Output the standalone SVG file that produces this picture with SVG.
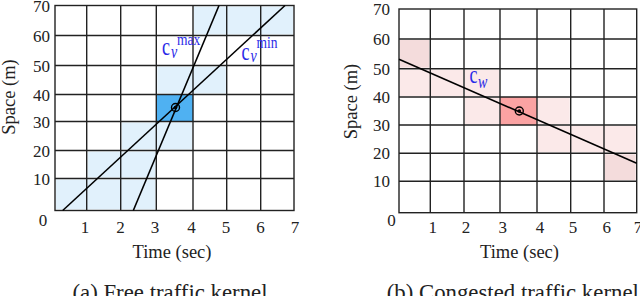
<svg xmlns="http://www.w3.org/2000/svg" width="640" height="296" viewBox="0 0 640 296">
<style>
.t{font-family:"Liberation Serif","Times New Roman",serif;fill:#222;}
.tk{font-size:17px;}
.ax{font-size:18.5px;}
.cap{font-size:22.8px;}
.lb{font-family:"Liberation Serif","Times New Roman",serif;fill:#2a2ae8;}
.g{stroke:#222;stroke-width:1.4;fill:none;}
.ln{stroke:#000;stroke-width:1.6;fill:none;}
.lb1{fill:#e1f1fc;}
.db{fill:#4fb1f2;}
.lp{fill:#fbe9e9;}
.mp{fill:#f4dcdc;}
.dp{fill:#fba3a3;}
</style>
<rect width="640" height="296" fill="#fff"/>

<g id="chart-a">
  <g id="cells-a">
    <rect class="lb1" x="56" y="179.5" width="99.5" height="30"/>
    <rect class="lb1" x="87.7" y="151.5" width="67.8" height="26"/>
    <rect class="lb1" x="121.7" y="122.5" width="70.5" height="27"/>
    <rect class="db" x="156.3" y="94.5" width="36.7" height="27"/>
    <rect class="lb1" x="157.3" y="66.5" width="68.6" height="27"/>
    <rect class="lb1" x="194" y="6.5" width="99" height="28"/>
  </g>
  <g id="grid-a" class="g">
    <rect x="55" y="5.5" width="239" height="205"/>
    <path d="M86.7 5.5V210.5M120.7 5.5V210.5M156.3 5.5V210.5M193 5.5V210.5M226.7 5.5V210.5M260.7 5.5V210.5"/>
    <path d="M55 35.5H294M55 65.5H294M55 94.5H294M55 121.5H294M55 150.5H294M55 178.5H294"/>
  </g>
  <g id="ticks-a" class="t tk">
    <text x="50" y="11.5" text-anchor="end">70</text>
    <text x="50" y="41.5" text-anchor="end">60</text>
    <text x="50" y="71.5" text-anchor="end">50</text>
    <text x="50" y="100.5" text-anchor="end">40</text>
    <text x="50" y="127.5" text-anchor="end">30</text>
    <text x="50" y="156.5" text-anchor="end">20</text>
    <text x="50" y="184.5" text-anchor="end">10</text>
    <text x="43" y="226" text-anchor="middle">0</text>
    <text x="85" y="233" text-anchor="middle">1</text>
    <text x="120.5" y="233" text-anchor="middle">2</text>
    <text x="155" y="233" text-anchor="middle">3</text>
    <text x="191.5" y="233" text-anchor="middle">4</text>
    <text x="226" y="233" text-anchor="middle">5</text>
    <text x="260.5" y="233" text-anchor="middle">6</text>
    <text x="295" y="233" text-anchor="middle">7</text>
  </g>
  <text class="t ax" x="172" y="258" text-anchor="middle">Time (sec)</text>
  <text class="t ax" transform="translate(15 97) rotate(-90)" text-anchor="middle">Space (m)</text>
  <text class="t cap" x="170" y="300" text-anchor="middle">(a) Free traffic kernel</text>
  <g id="label-cvmax" class="lb">
    <text transform="translate(162 55) scale(1 1.4)" font-size="18">c</text>
    <text transform="translate(171 57.5) scale(1 1.3)" font-size="14" font-style="italic">v</text>
    <text transform="translate(177 45) scale(1 1.3)" font-size="13.5">max</text>
  </g>
  <g id="label-cvmin" class="lb">
    <text transform="translate(241.5 59.5) scale(1 1.4)" font-size="18">c</text>
    <text transform="translate(250.5 62) scale(1 1.3)" font-size="14" font-style="italic">v</text>
    <text transform="translate(256.5 48) scale(1 1.3)" font-size="13.5">min</text>
  </g>
</g>

<g id="chart-b">
  <g id="cells-b">
    <rect class="mp" x="400" y="40" width="29.3" height="27.7"/>
    <rect class="lp" x="400" y="69.7" width="63" height="26.3"/>
    <rect class="lp" x="465" y="69.7" width="34" height="26.3"/>
    <rect class="lp" x="465" y="98" width="34" height="26"/>
    <rect class="dp" x="500" y="97" width="37" height="28"/>
    <rect class="lp" x="538" y="98" width="31.7" height="26"/>
    <rect class="lp" x="538" y="126" width="97.7" height="26.3"/>
    <rect class="mp" x="605" y="154.3" width="30.7" height="26"/>
  </g>
  <g id="grid-b" class="g">
    <rect x="399" y="9" width="237.7" height="203.7"/>
    <path d="M430.3 9V212.7M464 9V212.7M500 9V212.7M537 9V212.7M570.7 9V212.7M604 9V212.7"/>
    <path d="M399 39H636.7M399 68.7H636.7M399 97H636.7M399 125H636.7M399 153.3H636.7M399 181.3H636.7"/>
  </g>
  <g id="ticks-b" class="t tk">
    <text x="390" y="15" text-anchor="end">70</text>
    <text x="390" y="45" text-anchor="end">60</text>
    <text x="390" y="74.7" text-anchor="end">50</text>
    <text x="390" y="103" text-anchor="end">40</text>
    <text x="390" y="131" text-anchor="end">30</text>
    <text x="390" y="159.3" text-anchor="end">20</text>
    <text x="390" y="187.3" text-anchor="end">10</text>
    <text x="391.5" y="226" text-anchor="middle">0</text>
    <text x="432.7" y="233" text-anchor="middle">1</text>
    <text x="466" y="233" text-anchor="middle">2</text>
    <text x="502.7" y="233" text-anchor="middle">3</text>
    <text x="540" y="233" text-anchor="middle">4</text>
    <text x="573" y="233" text-anchor="middle">5</text>
    <text x="606.7" y="233" text-anchor="middle">6</text>
    <text x="638" y="233" text-anchor="middle">7</text>
  </g>
  <text class="t ax" x="519.5" y="258" text-anchor="middle">Time (sec)</text>
  <text class="t ax" transform="translate(357 101.5) rotate(-90)" text-anchor="middle">Space (m)</text>
  <text class="t cap" x="386.7" y="300">(b) Congested traffic kernel</text>
  <g id="label-cw" class="lb">
    <text transform="translate(469.5 83.3) scale(1 1.4)" font-size="18">c</text>
    <text transform="translate(478 88.3) scale(1 1.3)" font-size="14" font-style="italic">w</text>
  </g>
</g>

<g id="connectors">
  <line class="ln" x1="62.7" y1="210.5" x2="285" y2="5.5"/>
  <line class="ln" x1="133.3" y1="210.5" x2="219" y2="5.5"/>
  <line class="ln" x1="399" y1="59.3" x2="636.7" y2="163.3"/>
</g>

<g id="point-a">
  <circle cx="175.5" cy="107.5" r="4" fill="none" stroke="#000" stroke-width="1.4"/>
  <circle cx="175.5" cy="107.5" r="1.8" fill="#000"/>
</g>
<g id="point-b">
  <circle cx="519.3" cy="111" r="4" fill="none" stroke="#000" stroke-width="1.4"/>
  <circle cx="519.3" cy="111" r="1.8" fill="#000"/>
</g>
</svg>
